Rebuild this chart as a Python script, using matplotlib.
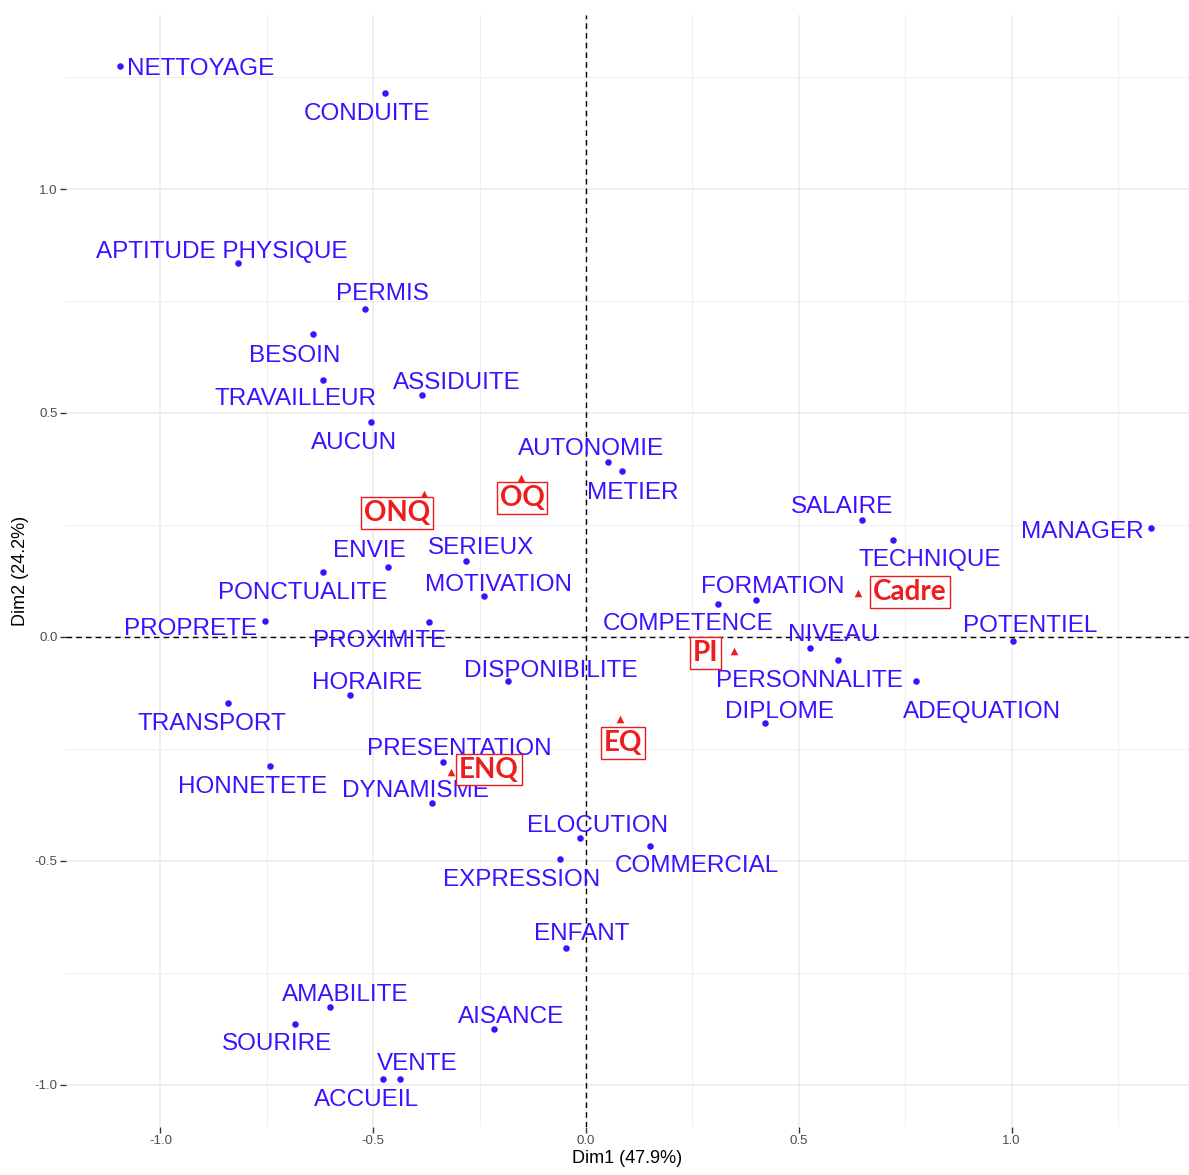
import matplotlib.pyplot as plt
from matplotlib.ticker import MultipleLocator

plt.rcParams['font.family'] = ['Liberation Sans', 'DejaVu Sans']
plt.rcParams['axes.unicode_minus'] = False

# Row points (words) - CA coordinates
row_names = ["NETTOYAGE", "CONDUITE", "APTITUDE PHYSIQUE", "PERMIS", "BESOIN",
             "TRAVAILLEUR", "ASSIDUITE", "AUCUN", "AUTONOMIE", "METIER",
             "SALAIRE", "TECHNIQUE", "MANAGER", "ENVIE", "SERIEUX",
             "PONCTUALITE", "MOTIVATION", "FORMATION", "COMPETENCE", "PROPRETE",
             "PROXIMITE", "POTENTIEL", "NIVEAU", "PERSONNALITE", "ADEQUATION",
             "DIPLOME", "DISPONIBILITE", "HORAIRE", "TRANSPORT", "PRESENTATION",
             "HONNETETE", "DYNAMISME", "ELOCUTION", "COMMERCIAL", "EXPRESSION",
             "ENFANT", "AMABILITE", "AISANCE", "SOURIRE", "VENTE", "ACCUEIL"]
row_dim1 = [-1.095, -0.472, -0.818, -0.519, -0.642,
            -0.618, -0.385, -0.505, 0.052, 0.085,
            0.649, 0.722, 1.328, -0.465, -0.282,
            -0.618, -0.240, 0.400, 0.310, -0.754,
            -0.369, 1.004, 0.526, 0.592, 0.776,
            0.421, -0.183, -0.555, -0.841, -0.336,
            -0.743, -0.362, -0.014, 0.150, -0.061,
            -0.047, -0.602, -0.216, -0.684, -0.437, -0.477]
row_dim2 = [1.275, 1.214, 0.835, 0.732, 0.676,
            0.574, 0.540, 0.480, 0.391, 0.371,
            0.261, 0.217, 0.243, 0.156, 0.170,
            0.145, 0.092, 0.083, 0.074, 0.036,
            0.033, -0.009, -0.025, -0.051, -0.098,
            -0.192, -0.098, -0.129, -0.147, -0.279,
            -0.288, -0.371, -0.449, -0.467, -0.495,
            -0.694, -0.826, -0.875, -0.864, -0.987, -0.987]

# Column points (job categories)
col_names = ["ONQ", "OQ", "Cadre", "PI", "EQ", "ENQ"]
col_dim1 = [-0.381, -0.153, 0.639, 0.348, 0.080, -0.317]
col_dim2 = [0.319, 0.355, 0.098, -0.031, -0.183, -0.301]

# label offsets in pixels (repel-like placement)
row_off = [(81, 0), (-18, -18), (-16, 14), (17, 18), (-18, -19),
           (-28, -16), (35, 15), (-17, -18), (-17, 16), (11, -19),
           (-20, 16), (37, -17), (-69, -1), (-19, 19), (15, 16),
           (-20, -18), (15, 14), (17, 16), (-30, -17), (-75, -5),
           (-49, -16), (17, 18), (23, 16), (-28, -18), (66, -28),
           (14, 14), (43, 13), (17, 15), (-16, -18), (16, 16),
           (-17, -18), (-17, 15), (18, 15), (47, -17), (-38, -18),
           (16, 17), (15, 15), (17, 15), (-18, -17), (17, 18), (-17, -18)]
col_off = [(-27, -18), (1, -19), (52, 2), (-29, -1), (3, -23), (38, 3)]

blue = "#3f10ff"
red = "#ee1c1c"

fig = plt.figure(figsize=(11.89, 11.75), dpi=100)
ax = fig.add_axes([0.0555, 0.041, 0.9445, 0.946])

ax.set_xlim(-1.222, 1.417)
ax.set_ylim(-1.094, 1.388)

ax.xaxis.set_major_locator(MultipleLocator(0.5))
ax.yaxis.set_major_locator(MultipleLocator(0.5))
ax.xaxis.set_minor_locator(MultipleLocator(0.25))
ax.yaxis.set_minor_locator(MultipleLocator(0.25))
ax.grid(which="major", color="#ebebeb", linewidth=1.1)
ax.grid(which="minor", color="#f0f0f0", linewidth=0.8)
ax.set_axisbelow(True)
for s in ax.spines.values():
    s.set_visible(False)
ax.tick_params(which="major", length=4, width=1, color="#333333",
               labelsize=9.5, labelcolor="#4d4d4d", pad=2)
ax.tick_params(which="minor", length=0)

ax.axhline(0, color="black", linestyle=(0, (4, 3)), linewidth=1)
ax.axvline(0, color="black", linestyle=(0, (4, 3)), linewidth=1)

ax.scatter(row_dim1, row_dim2, s=22, color=blue, zorder=3, linewidths=0)
ax.scatter(col_dim1, col_dim2, s=30, color=red, marker="^", zorder=3, linewidths=0)

for name, x, y, off in zip(row_names, row_dim1, row_dim2, row_off):
    ax.annotate(name, (x, y), xytext=(off[0], off[1] - 3), textcoords="offset pixels",
                ha="center", va="center", color=blue, fontsize=17.5, zorder=4)

for name, x, y, off in zip(col_names, col_dim1, col_dim2, col_off):
    ax.annotate(name, (x, y), xytext=(off[0], off[1] - 1), textcoords="offset pixels",
                ha="center", va="center", color=red, fontsize=20,
                family=["Lato", "DejaVu Sans"], fontweight="bold", zorder=5,
                bbox=dict(boxstyle="square,pad=0.1", fc="white", ec=red, lw=1))

ax.set_xlabel("Dim1 (47.9%)", fontsize=13, labelpad=2)
ax.set_ylabel("Dim2 (24.2%)", fontsize=13, labelpad=4)

fig.savefig("out.png", dpi=100)
